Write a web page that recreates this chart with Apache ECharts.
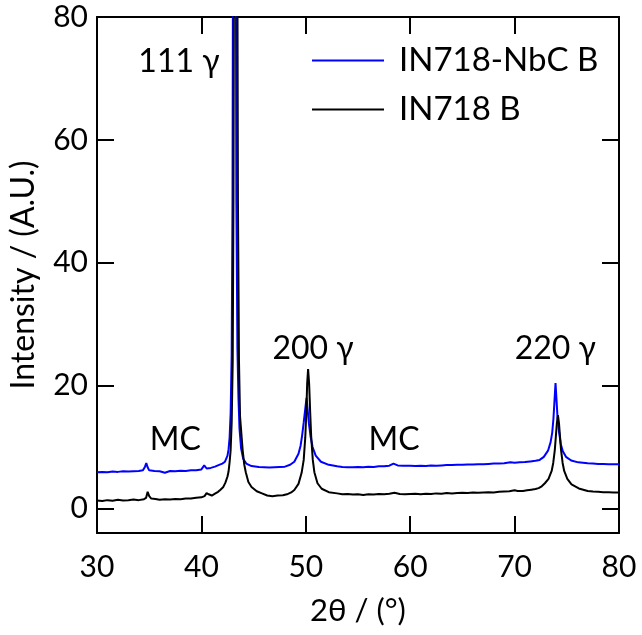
<!DOCTYPE html>
<html>
<head>
<meta charset="utf-8">
<script src="https://cdn.jsdelivr.net/npm/echarts@6/dist/echarts.min.js"></script>
<style>
html,body{margin:0;padding:0;background:#fff;}
#c{width:642px;height:635px;}
</style>
</head>
<body>
<div id="c"></div>
<script>
// ---- data ----
var seriesNames = ['IN718-NbC B', 'IN718 B'];

var blueX = [30.0,30.5,31.0,31.5,32.0,32.5,33.0,33.5,34.0,34.4,34.6,34.72,34.85,35.0,35.5,36.0,36.5,37.0,37.5,38.0,38.5,39.0,39.5,40.0,40.27,40.5,40.9,41.3,41.7,42.0,42.26,42.5,42.6,42.7,42.8,42.9,42.98,43.06,43.15,43.26,43.35,43.45,43.55,43.65,43.8,44.0,44.3,44.8,45.5,46.0,46.5,47.0,47.5,48.0,48.5,48.9,49.3,49.5,49.65,49.8,49.95,50.07,50.17,50.3,50.45,50.65,50.95,51.45,52.2,53.0,53.5,54.0,54.5,55.0,55.5,56.0,56.5,57.0,57.5,58.0,58.4,58.8,59.3,60.0,60.5,61.0,61.5,62.0,62.5,63.0,63.5,64.0,64.5,65.0,65.5,66.0,66.5,67.0,67.5,68.0,68.5,69.0,69.6,70.0,70.5,71.0,71.5,72.0,72.4,72.8,73.2,73.45,73.6,73.72,73.82,73.92,74.02,74.12,74.27,74.42,74.62,74.92,75.42,76.1,77.0,77.5,78.0,78.5,79.0,79.5,80.0];
var blueY = [5.90,5.95,5.90,6.00,5.95,6.05,6.00,6.05,6.10,6.20,6.80,7.40,6.70,6.20,6.10,6.05,5.80,6.10,6.05,6.15,6.10,6.20,6.20,6.35,7.00,6.50,6.60,6.80,7.10,7.30,7.60,8.60,9.60,11.5,15.5,25,50,120,250,120,50,26,18,13,9.8,8.1,7.3,6.9,6.75,6.70,6.65,6.70,6.75,6.80,7.10,7.60,8.9,10.2,11.9,14.0,16.2,18.0,16.2,13.8,11.8,10.0,8.6,7.6,7.1,6.85,6.75,6.70,6.70,6.75,6.70,6.80,6.75,6.85,6.85,6.95,7.30,7.00,6.95,6.95,6.90,6.95,6.90,7.00,6.95,7.00,7.05,7.05,7.10,7.10,7.15,7.15,7.20,7.20,7.25,7.30,7.30,7.35,7.50,7.45,7.50,7.55,7.65,7.75,7.9,8.4,9.4,10.8,12.3,14.6,17.5,20.4,17.5,14.6,12.3,10.5,9.3,8.4,7.8,7.5,7.35,7.30,7.25,7.25,7.20,7.20,7.20];

var blackX = [30.0,30.5,31.0,31.5,32.0,32.5,33.0,33.5,34.0,34.5,34.7,34.85,35.0,35.2,35.6,36.0,36.5,37.0,37.5,38.0,38.5,39.0,39.5,40.0,40.3,40.5,40.7,41.0,41.3,41.6,41.8,42.1,42.3,42.5,42.6,42.7,42.8,42.9,43.0,43.07,43.16,43.28,43.4,43.5,43.6,43.7,43.95,44.1,44.25,44.5,44.8,45.3,45.8,46.3,46.8,47.3,47.8,48.2,48.6,48.9,49.3,49.6,49.8,49.95,50.05,50.13,50.22,50.32,50.42,50.52,50.67,50.82,51.12,51.52,52.2,53.0,53.5,54.0,54.5,55.0,55.5,56.0,56.5,57.0,57.5,58.0,58.5,59.0,59.5,60.0,60.5,61.0,61.5,62.0,62.5,63.0,63.5,64.0,64.5,65.0,65.5,66.0,66.5,67.0,67.5,68.0,68.5,69.0,69.5,70.0,70.3,70.8,71.2,71.6,72.0,72.3,72.6,72.9,73.25,73.55,73.7,73.85,73.95,74.05,74.15,74.25,74.35,74.45,74.6,74.75,75.05,75.45,76.15,77.0,77.5,78.0,78.5,79.0,79.5,80.0];
var blackY = [1.30,1.20,1.35,1.25,1.40,1.30,1.35,1.45,1.35,1.50,1.70,2.70,2.00,1.60,1.55,1.40,1.50,1.45,1.55,1.50,1.60,1.60,1.75,1.80,2.00,2.50,2.30,2.10,2.40,2.70,3.00,3.50,4.20,5.20,6.00,7.50,9.50,14.0,24.0,50,120,280,120,50,24,15,9.5,7.2,5.9,4.3,3.5,2.8,2.45,2.1,2.0,2.1,2.15,2.3,2.6,3.0,4.0,5.8,7.9,11.6,15.6,20.3,22.7,20.3,15.6,11.6,7.9,5.9,4.1,3.2,2.65,2.45,2.3,2.35,2.25,2.30,2.20,2.30,2.25,2.35,2.30,2.40,2.55,2.35,2.30,2.35,2.40,2.30,2.40,2.35,2.45,2.40,2.50,2.45,2.50,2.55,2.50,2.60,2.55,2.60,2.65,2.60,2.70,2.75,2.80,2.95,2.85,2.85,2.95,3.05,3.15,3.30,3.6,4.1,4.8,6.1,7.4,9.5,11.7,13.9,15.2,13.9,11.7,9.5,7.4,6.1,4.8,3.9,3.25,2.85,2.75,2.70,2.65,2.65,2.60,2.60];

var xTicks = [30, 40, 50, 60, 70, 80];
var yTicks = [0, 20, 40, 60, 80];

var annText = ['111 γ', '200 γ', '220 γ', 'MC', 'MC'];
var annX = [37.85, 50.7, 73.9, 37.5, 58.45];
var annY = [72.8, 26.0, 26.0, 11.2, 11.2];

// ---- chart ----
function pairs(xs, ys) { return xs.map(function (x, i) { return [x, ys[i]]; }); }

var FONT = 'Lato, "Noto Sans", sans-serif';
var chart = echarts.init(document.getElementById('c'), null, {renderer: 'canvas'});

var axisLineStyle = {color: '#000', width: 2};
chart.setOption({
  animation: false,
  backgroundColor: '#fff',
  grid: {left: 97, right: 23, top: 17, bottom: 102, containLabel: false},
  legend: {
    show: true,
    data: seriesNames,
    orient: 'vertical',
    left: 312, top: 44,
    padding: 0,
    icon: 'rect',
    itemWidth: 72, itemHeight: 2, itemGap: 16,
    textStyle: {fontFamily: FONT, fontSize: 33, color: '#000', padding: [0, 0, 0, 10]},
    selectedMode: false
  },
  xAxis: [{
    type: 'value', min: xTicks[0], max: xTicks[xTicks.length - 1], interval: 10,
    position: 'bottom',
    name: '2θ / (°)', nameLocation: 'middle', nameGap: 62,
    nameTextStyle: {fontFamily: FONT, fontSize: 31, color: '#000'},
    axisLine: {show: true, onZero: false, lineStyle: axisLineStyle},
    axisTick: {show: true, inside: true, length: 17, lineStyle: axisLineStyle},
    axisLabel: {fontFamily: FONT, fontSize: 30, color: '#000', margin: 19},
    splitLine: {show: false}
  }, {
    type: 'value', min: xTicks[0], max: xTicks[xTicks.length - 1], interval: 10,
    position: 'top',
    axisLine: {show: true, onZero: false, lineStyle: axisLineStyle},
    axisTick: {show: true, inside: true, length: 17, lineStyle: axisLineStyle},
    axisLabel: {show: false},
    splitLine: {show: false}
  }],
  yAxis: [{
    type: 'value', min: -4, max: 80,
    position: 'left',
    name: 'Intensity / (A.U.)', nameLocation: 'middle', nameGap: 57,
    nameTextStyle: {fontFamily: FONT, fontSize: 32, color: '#000'},
    axisLine: {show: true, onZero: false, lineStyle: axisLineStyle},
    axisTick: {show: true, inside: true, length: 17, lineStyle: axisLineStyle, customValues: yTicks},
    axisLabel: {fontFamily: FONT, fontSize: 30, color: '#000', margin: 9, customValues: yTicks},
    splitLine: {show: false}
  }, {
    type: 'value', min: -4, max: 80,
    position: 'right',
    axisLine: {show: true, onZero: false, lineStyle: axisLineStyle},
    axisTick: {show: true, inside: true, length: 17, lineStyle: axisLineStyle, customValues: yTicks},
    axisLabel: {show: false, customValues: yTicks},
    splitLine: {show: false}
  }],
  series: [{
    name: seriesNames[0], type: 'line', xAxisIndex: 0, yAxisIndex: 0,
    data: pairs(blueX, blueY), showSymbol: false, symbol: 'none',
    lineStyle: {color: '#0000ff', width: 2}, itemStyle: {color: '#0000ff'},
    clip: true, z: 2
  }, {
    name: seriesNames[1], type: 'line', xAxisIndex: 0, yAxisIndex: 0,
    data: pairs(blackX, blackY), showSymbol: false, symbol: 'none',
    lineStyle: {color: '#000', width: 2}, itemStyle: {color: '#000'},
    clip: true, z: 3
  }, {
    name: 'annotations', type: 'scatter', xAxisIndex: 0, yAxisIndex: 0,
    symbolSize: 0, silent: true, z: 4,
    itemStyle: {color: '#000', opacity: 1},
    data: annX.map(function (x, i) { return {value: [x, annY[i]], name: annText[i]}; }),
    label: {show: true, position: 'inside', formatter: '{b}',
      fontFamily: FONT, fontSize: 32, color: '#000', textBorderWidth: 0}
  }]
});
</script>
</body>
</html>
